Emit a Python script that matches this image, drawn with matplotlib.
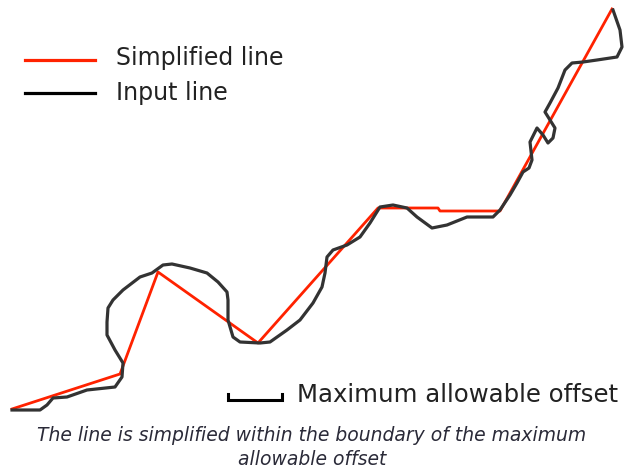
import matplotlib
matplotlib.use("Agg")
from matplotlib import pyplot as plt

# picture coordinates (pixels, y grows downward)
input_x = [12, 40, 47, 53, 67, 87, 115, 122, 123, 115, 107, 107, 108, 113, 123, 140, 152,
           163, 172, 190, 207, 218, 227, 228, 228, 233, 240, 260, 270, 287, 300, 313,
           322, 325, 327, 333, 347, 360, 370, 380, 393, 407, 417, 432, 447, 467, 493,
           500, 510, 517, 523, 529, 532, 530, 537, 543, 548, 553, 555, 550, 545, 550,
           558, 565, 572, 583, 597, 617, 622, 620, 613]
input_y = [410, 410, 405, 398, 397, 390, 387, 377, 363, 350, 335, 322, 308, 300, 290, 277, 273,
           265, 264, 268, 273, 282, 292, 300, 320, 337, 342, 343, 342, 330, 320, 303,
           287, 273, 257, 250, 245, 237, 223, 207, 205, 208, 217, 228, 225, 217, 217,
           210, 195, 183, 172, 168, 160, 142, 128, 135, 143, 138, 128, 120, 112, 103,
           88, 70, 63, 62, 60, 57, 47, 30, 10]

simple_x = [12, 120, 158, 258, 378, 438, 440, 500, 612]
simple_y = [409, 374, 272, 343, 208, 208, 211, 211, 9]

legend_labels = ["Simplified line", "Input line"]
scale_label = "Maximum allowable offset"
caption_lines = ["The line is simplified within the boundary of the maximum",
                 "allowable offset"]

RED = "#ff2200"
DARK = "#333333"
TXT = "#222222"

fig = plt.figure(figsize=(6.25, 4.68), dpi=100)
ax = fig.add_axes([0, 0, 1, 1])
ax.set_xlim(0, 625)
ax.set_ylim(468, 0)
ax.axis("off")

ax.plot(simple_x, simple_y, color=RED, lw=2.0, solid_joinstyle="round", zorder=2)
ax.plot(input_x, input_y, color=DARK, lw=2.3, solid_joinstyle="round", zorder=3)

# legend
ax.plot([25, 95], [60, 60], color=RED, lw=2.3)
ax.plot([25, 95], [93, 93], color="black", lw=2.3)
ax.text(116, 65, legend_labels[0], fontsize=17, color=TXT, va="baseline", ha="left")
ax.text(116, 100, legend_labels[1], fontsize=17, color=TXT, va="baseline", ha="left")

# scale bar
ax.plot([228, 228, 282, 282], [394, 400, 400, 394], color="black", lw=2.2,
        solid_joinstyle="miter")
ax.text(297, 402, scale_label, fontsize=17.6, color=TXT, va="baseline", ha="left")

ax.text(312, 441, caption_lines[0], fontsize=13.5, style="italic", color="#2a2a38",
        ha="center", va="baseline")
ax.text(312, 465, caption_lines[1], fontsize=13.5, style="italic", color="#2a2a38",
        ha="center", va="baseline")

fig.savefig("out.png", dpi=100)
